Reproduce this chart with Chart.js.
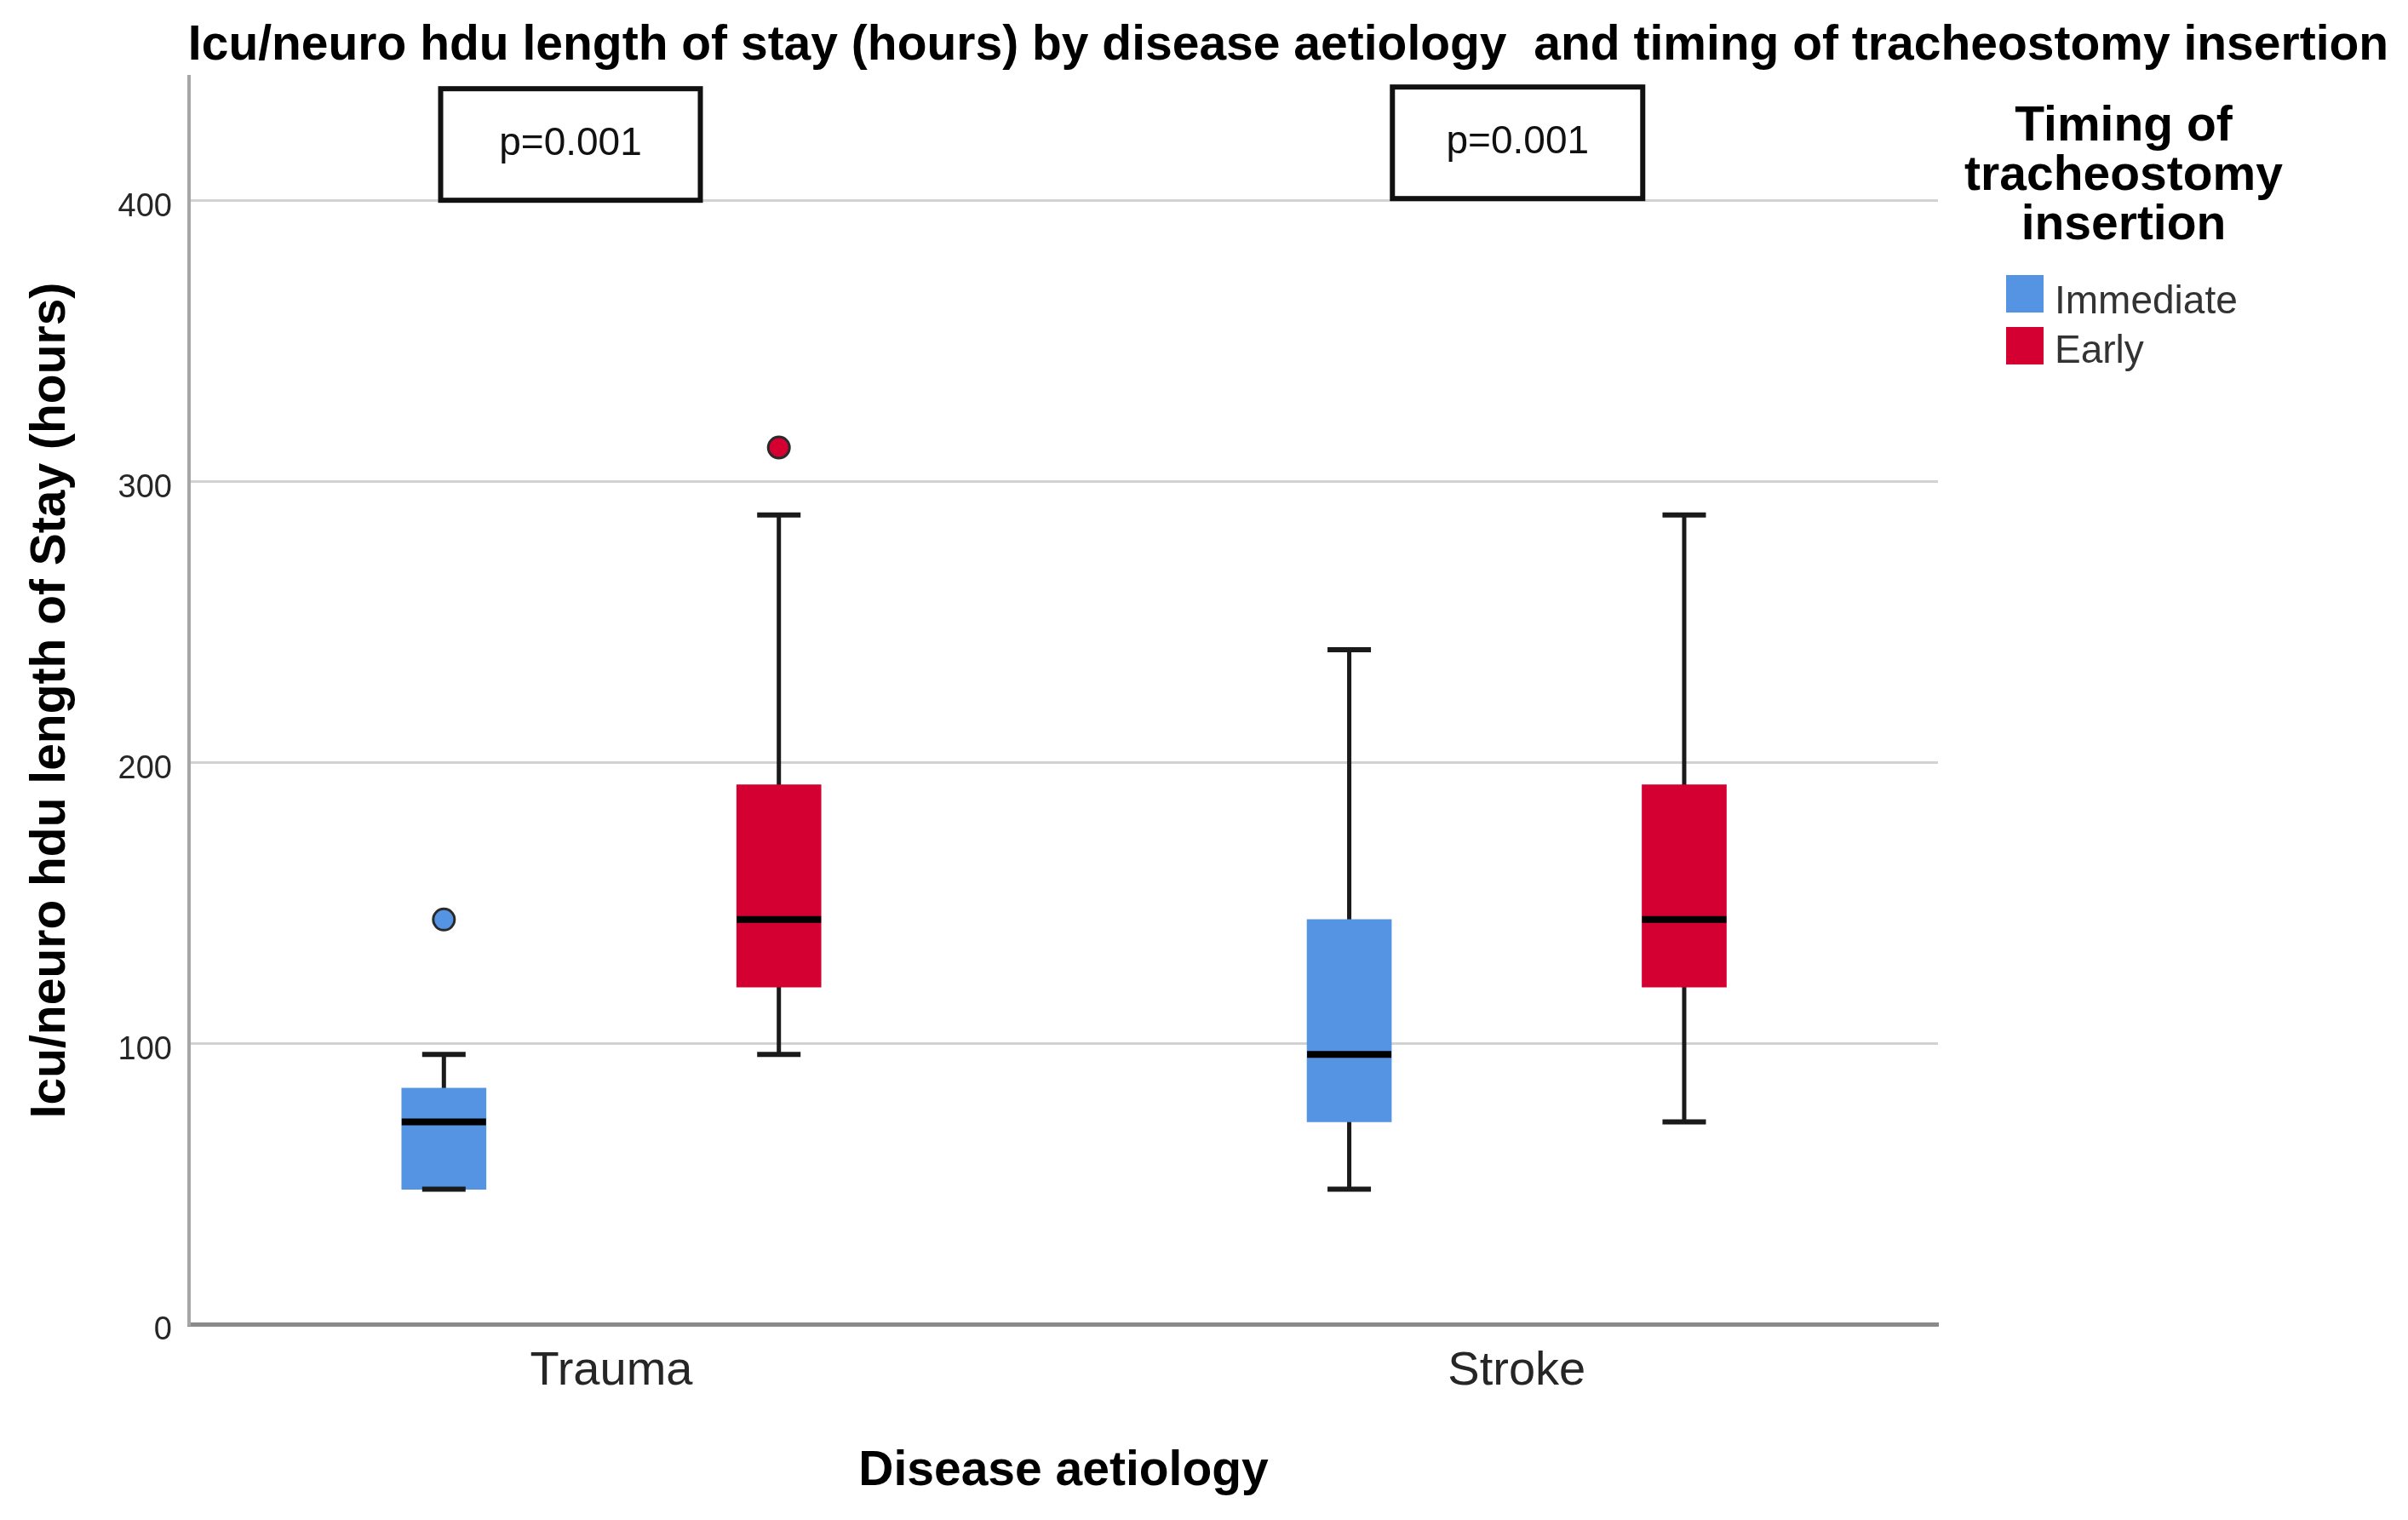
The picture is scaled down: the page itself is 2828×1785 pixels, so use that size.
<!DOCTYPE html>
<html>
<head>
<meta charset="utf-8">
<title>Icu/neuro hdu length of stay</title>
<script src="https://cdn.jsdelivr.net/npm/chart.js@4.4.1/dist/chart.umd.min.js"></script>
<style>
  html, body { margin: 0; padding: 0; background: #fff; }
  #wrap { width: 2828px; height: 1785px; }
</style>
</head>
<body>
<div id="wrap"><canvas id="chart"></canvas></div>
<script>
// ── Data (hours) ────────────────────────────────────
const categories = ['Trauma', 'Stroke'];
const groups = ['Immediate', 'Early'];

const immediateMin = [48, 48];
const immediateQ1 = [48, 72];
const immediateMedian = [72, 96];
const immediateQ3 = [84, 144];
const immediateMax = [96, 240];
const immediateOutliers = [[144], []];

const earlyMin = [96, 72];
const earlyQ1 = [120, 120];
const earlyMedian = [144, 144];
const earlyQ3 = [192, 192];
const earlyMax = [288, 288];
const earlyOutliers = [[312], []];

const yTicks = [0, 100, 200, 300, 400];
const pLabels = ['p=0.001', 'p=0.001'];

// ── Look ────────────────────────────────────────────
const FONT = "'Liberation Sans', Arial, sans-serif";
const COLORS = ['#5494e3', '#d50032'];
const GROUP_OFFSET = [-0.185, 0.185];   // box position inside a category
const BOX_WIDTH = 99;
const CAP_HALF = 25.5;

const TITLE = 'Icu/neuro hdu length of stay (hours) by disease aetiology  and timing of tracheostomy insertion';
const LEGEND_TITLE = ['Timing of', 'tracheostomy', 'insertion'];

// ── Build datasets from the stats ───────────────────
function groupDatasets(g, stats) {
  const off = GROUP_OFFSET[g];
  const xs = categories.map((c, i) => i + off);
  const color = COLORS[g];

  const whiskers = {
    type: 'line',
    label: groups[g] + ' whiskers',
    data: xs.flatMap((x, i) => [
      { x, y: stats.min[i] }, { x, y: stats.max[i] }, { x, y: null },
    ]),
    borderColor: '#1a1a1a',
    borderWidth: 5,
    pointRadius: 0,
    spanGaps: false,
    order: 10,
  };

  const boxes = {
    type: 'bar',
    label: groups[g],
    data: xs.map((x, i) => ({ x, y: [stats.q1[i], stats.q3[i]] })),
    backgroundColor: color,
    borderWidth: 0,
    grouped: false,
    barThickness: BOX_WIDTH,
    order: 8,
  };

  const caps = {
    type: 'scatter',
    label: groups[g] + ' caps',
    data: xs.flatMap((x, i) => [{ x, y: stats.min[i] }, { x, y: stats.max[i] }]),
    pointStyle: 'line',
    pointRadius: CAP_HALF,
    pointBorderWidth: 6,
    pointBorderColor: '#1a1a1a',
    order: 6,
  };

  const medians = {
    type: 'scatter',
    label: groups[g] + ' median',
    data: xs.map((x, i) => ({ x, y: stats.median[i] })),
    pointStyle: 'line',
    pointRadius: BOX_WIDTH / 2,
    pointBorderWidth: 8,
    pointBorderColor: '#000',
    order: 4,
  };

  const outliers = {
    type: 'scatter',
    label: groups[g] + ' outliers',
    data: xs.flatMap((x, i) => stats.outliers[i].map((y) => ({ x, y }))),
    pointStyle: 'circle',
    pointRadius: 12.5,
    pointBackgroundColor: color,
    pointBorderColor: '#2a2a2a',
    pointBorderWidth: 3,
    order: 2,
  };

  return [whiskers, boxes, caps, medians, outliers];
}

const datasets = [
  ...groupDatasets(0, {
    min: immediateMin, q1: immediateQ1, median: immediateMedian,
    q3: immediateQ3, max: immediateMax, outliers: immediateOutliers,
  }),
  ...groupDatasets(1, {
    min: earlyMin, q1: earlyQ1, median: earlyMedian,
    q3: earlyQ3, max: earlyMax, outliers: earlyOutliers,
  }),
];

// ── Title, p-value boxes and legend ─────────────────
const decorations = {
  id: 'decorations',
  afterDraw(chart) {
    const { ctx, scales: { x, y } } = chart;
    ctx.save();

    // main title
    ctx.fillStyle = '#000';
    ctx.font = `bold 57px ${FONT}`;
    ctx.textAlign = 'center';
    ctx.textBaseline = 'alphabetic';
    ctx.fillText(TITLE, 1513, 70);

    // p-value boxes sitting on the 400 gridline
    const boxShift = [-48, 1];
    const boxW = [305, 294];
    pLabels.forEach((txt, i) => {
      const cx = x.getPixelForValue(i) + boxShift[i];
      const bottom = y.getPixelForValue(400) + (i === 0 ? 0 : -2);
      const top = bottom - 131;
      ctx.fillStyle = '#fff';
      ctx.fillRect(cx - boxW[i] / 2, top, boxW[i], bottom - top);
      ctx.lineWidth = 6;
      ctx.strokeStyle = '#111';
      ctx.strokeRect(cx - boxW[i] / 2, top, boxW[i], bottom - top);
      ctx.fillStyle = '#111';
      ctx.font = `46px ${FONT}`;
      ctx.textBaseline = 'middle';
      ctx.fillText(txt, cx, (top + bottom) / 2);
    });

    // legend
    ctx.fillStyle = '#000';
    ctx.font = `bold 57px ${FONT}`;
    ctx.textAlign = 'center';
    ctx.textBaseline = 'alphabetic';
    LEGEND_TITLE.forEach((line, i) => ctx.fillText(line, 2494, 165 + i * 58));

    ctx.textAlign = 'left';
    ctx.font = `46px ${FONT}`;
    groups.forEach((name, i) => {
      ctx.fillStyle = COLORS[i];
      ctx.fillRect(2356, 323 + i * 61, 44, 44);
      ctx.fillStyle = '#333';
      ctx.fillText(name, 2413, 368 + i * 58);
    });

    ctx.restore();
  },
};

// ── Chart ───────────────────────────────────────────
new Chart(document.getElementById('chart'), {
  type: 'bar',
  data: { datasets },
  options: {
    responsive: true,
    maintainAspectRatio: false,
    devicePixelRatio: 1,
    animation: false,
    events: [],
    layout: { padding: { top: 90, right: 552, bottom: 0, left: 0 } },
    plugins: {
      legend: { display: false },
      tooltip: { enabled: false },
      title: { display: false },
    },
    scales: {
      x: {
        type: 'linear',
        min: -0.4665,
        max: 1.4653,
        offset: false,
        afterBuildTicks: (s) => { s.ticks = categories.map((c, i) => ({ value: i })); },
        afterFit: (s) => { s.height = 230; },
        ticks: {
          autoSkip: false,
          maxRotation: 0,
          padding: 22,
          color: '#262626',
          font: { family: FONT, size: 56 },
          callback: (v, i) => categories[i],
        },
        grid: { display: false, drawTicks: false, offset: false },
        border: { color: '#8a8a8a', width: 5 },
        title: {
          display: true,
          text: 'Disease aetiology',
          color: '#000',
          font: { family: FONT, size: 57, weight: 'bold' },
          padding: { top: 0, bottom: 23 },
        },
      },
      y: {
        min: 0,
        max: 444,
        afterBuildTicks: (s) => { s.ticks = yTicks.map((v) => ({ value: v })); },
        afterFit: (s) => { s.width = 222; },
        ticks: {
          padding: 20,
          labelOffset: 8,
          color: '#262626',
          font: { family: FONT, size: 38 },
        },
        grid: { color: '#d2d2d2', lineWidth: 3, drawTicks: false },
        border: { color: '#a6a6a6', width: 4 },
        title: {
          display: true,
          text: 'Icu/neuro hdu length of Stay (hours)',
          color: '#000',
          font: { family: FONT, size: 57, weight: 'bold' },
          padding: { top: 26, bottom: 0 },
        },
      },
    },
  },
  plugins: [decorations],
});
</script>
</body>
</html>
